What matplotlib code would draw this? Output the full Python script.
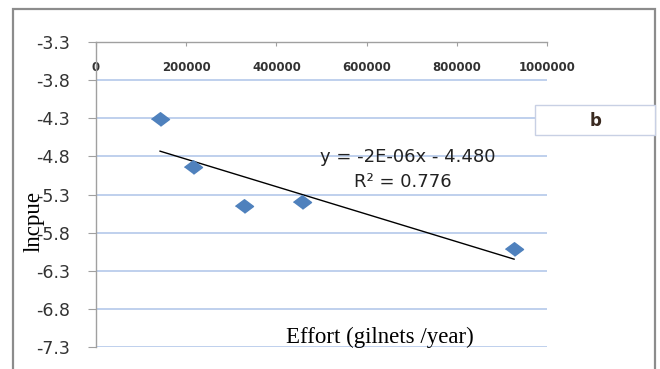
import matplotlib.pyplot as plt
import numpy as np
from matplotlib.patches import Rectangle

# data
effort = np.array([142000, 215000, 328000, 457000, 927000])  # gilnets / year
lncpue = np.array([-4.31, -4.94, -5.45, -5.40, -6.01])

x_ticks = [0, 200000, 400000, 600000, 800000, 1000000]
y_ticks = [-3.3, -3.8, -4.3, -4.8, -5.3, -5.8, -6.3, -6.8, -7.3]

eq_text = "y = -2E-06x - 4.480"
r2_text = "R² = 0.776"
panel = "b"

# linear trend line through the points
slope, intercept = np.polyfit(effort, lncpue, 1)
x_fit = np.array([effort.min(), effort.max()])
y_fit = slope * x_fit + intercept

fig = plt.figure(figsize=(6.6, 3.69), dpi=100)
ax = fig.add_axes([96 / 660, 1 - 347 / 369, 451 / 660, 305 / 369])

diamond = [(-1, 0), (0, 0.75), (1, 0), (0, -0.75)]
ax.plot(effort, lncpue, linestyle='none', marker=diamond, markersize=13,
        color='#4f81bd', zorder=3)
ax.plot(x_fit, y_fit, color='black', linewidth=1.0, zorder=2)

ax.set_xlim(0, 1000000)
ax.set_ylim(-7.3, -3.3)
ax.set_xticks(x_ticks)
ax.set_xticklabels([str(v) for v in x_ticks])
ax.set_yticks(y_ticks)
ax.set_yticklabels([f"{v:.1f}" for v in y_ticks])

ax.yaxis.grid(True, color='#b4c8ea', linewidth=1.2)
ax.set_axisbelow(True)

for side in ['right', 'bottom']:
    ax.spines[side].set_visible(False)
for side in ['left', 'top']:
    ax.spines[side].set_color('#a0a0a0')
    ax.spines[side].set_linewidth(1.0)

ax.tick_params(axis='x', top=True, bottom=False, labeltop=True, labelbottom=False,
               direction='in', length=3, color='#a0a0a0', pad=-23,
               labelsize=8.5, labelcolor='#333333')
for lbl in ax.get_xticklabels():
    lbl.set_fontweight('bold')
ax.tick_params(axis='y', direction='out', length=6, color='#a0a0a0', pad=12.5,
               labelsize=12.5, labelcolor='#333333')

ax.set_ylabel("lncpue", family='Liberation Serif', fontsize=16.5, va='center')
ax.yaxis.set_label_coords(-0.137, 0.41)

ax.text(0.63, 0.03, "Effort (gilnets /year)", transform=ax.transAxes,
        family='Liberation Serif', fontsize=16.5, ha='center', va='center')
ax.text(0.692, 0.623, eq_text, transform=ax.transAxes, fontsize=13,
        ha='center', va='center', color='#222222')
ax.text(0.681, 0.541, r2_text, transform=ax.transAxes, fontsize=13,
        ha='center', va='center', color='#222222')

# outer chart frame
fig.add_artist(Rectangle((13 / 660, -0.05), 642 / 660, 1.05 - 9 / 369,
                         transform=fig.transFigure, fill=False,
                         edgecolor='#8c8c8c', linewidth=1.6))

# panel label box
fig.add_artist(Rectangle((535 / 660, 1 - 135 / 369), 120 / 660, 30 / 369,
                         transform=fig.transFigure, facecolor='white',
                         edgecolor='#c8d0e4', linewidth=1.0, zorder=5))
fig.text(596 / 660, 1 - 121 / 369, panel, fontsize=12, fontweight='bold',
         color='#3a2a20', ha='center', va='center', zorder=6)

fig.savefig("out.png", dpi=100)
